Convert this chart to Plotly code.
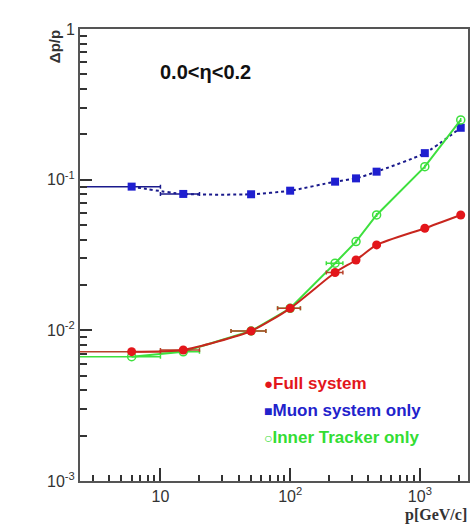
import plotly.graph_objects as go

# momentum values [GeV/c]
p_vals = [6, 15, 50, 100, 222, 322, 464, 1092, 2065]

full_system = [0.00722, 0.00741, 0.0099, 0.0140, 0.0242, 0.0293, 0.0369, 0.0476, 0.0583]
muon_only = [0.0899, 0.0804, 0.0800, 0.0845, 0.097, 0.102, 0.113, 0.150, 0.221]
tracker_only = [0.00669, 0.0072, 0.0099, 0.0140, 0.0279, 0.0388, 0.0583, 0.122, 0.249]

# horizontal bin half-widths (minus, plus)
err_minus = [4, 5, 15, 20, 32, 0, 0, 0, 0]
err_plus = [4, 5, 15, 20, 33, 0, 0, 0, 0]
muon_err = [4, 5, 0, 0, 0, 0, 0, 0, 0]

x_tickvals = [10, 100, 1000]
x_ticktext = ["10", "10<sup>2</sup>", "10<sup>3</sup>"]
y_tickvals = [0.001, 0.01, 0.1, 1]
y_ticktext = ["10<sup>-3</sup>", "10<sup>-2</sup>", "10<sup>-1</sup>", "1"]

RED = "#e3161b"
RED_LINE = "#c8261e"
BLUE = "#1f1fd0"
BLUE_LINE = "#1a1a8c"
GREEN = "#3ee03e"

fig = go.Figure()

fig.add_trace(go.Scatter(
    x=p_vals, y=muon_only, mode="lines+markers",
    line=dict(color=BLUE_LINE, width=2, dash="dot", shape="spline", smoothing=0.6),
    marker=dict(symbol="square", size=8, color=BLUE),
    error_x=dict(type="data", symmetric=False, array=muon_err, arrayminus=muon_err,
                 color=BLUE_LINE, thickness=1.5, width=2),
    showlegend=False))

fig.add_trace(go.Scatter(
    x=p_vals, y=tracker_only, mode="lines+markers",
    line=dict(color=GREEN, width=2),
    marker=dict(symbol="circle-open", size=8, color=GREEN, line=dict(width=1.5)),
    error_x=dict(type="data", symmetric=False, array=err_plus, arrayminus=err_minus,
                 color=GREEN, thickness=1.5, width=2),
    showlegend=False))

fig.add_trace(go.Scatter(
    x=p_vals, y=full_system, mode="lines+markers",
    line=dict(color=RED_LINE, width=2, shape="spline", smoothing=0.6),
    marker=dict(symbol="circle", size=9, color=RED),
    error_x=dict(type="data", symmetric=False, array=err_plus, arrayminus=err_minus,
                 color="#b8402a", thickness=1.5, width=2),
    showlegend=False))

axis_common = dict(
    type="log", showgrid=False, zeroline=False,
    showline=True, linecolor="#555555", linewidth=2, mirror=True,
    ticks="inside", tickcolor="#333333", tickwidth=1.5,
    tickfont=dict(family="Arial", size=16, color="#333333"),
)

fig.update_xaxes(
    **axis_common,
    range=[0.380, 3.371],
    tickvals=x_tickvals, ticktext=x_ticktext, ticklen=13,
    minor=dict(tickvals=[3, 4, 5, 6, 7, 8, 9, 20, 30, 40, 50, 60, 70, 80, 90,
                         200, 300, 400, 500, 600, 700, 800, 900, 2000],
               ticks="inside", ticklen=6, tickcolor="#333333", tickwidth=1.5),
)
fig.update_yaxes(
    **axis_common,
    range=[-3, 0],
    tickvals=y_tickvals, ticktext=y_ticktext, ticklen=12,
    minor=dict(tickvals=[k * 10 ** e for e in (-3, -2, -1) for k in range(2, 10)],
               ticks="inside", ticklen=7, tickcolor="#333333", tickwidth=1.5),
)

annotations = [
    dict(text="<b>0.0<η<0.2</b>", x=158, y=72, xanchor="left",
         font=dict(family="Arial", size=20, color="#111111")),
    dict(text="<b>Δp/p</b>", x=55, y=47, textangle=-90,
         font=dict(family="Arial", size=15, color="#333333")),
    dict(text="<b>p[GeV/c]</b>", x=471, y=515, xanchor="right",
         font=dict(family="Times New Roman, Liberation Serif, serif", size=16, color="#333333")),
    dict(text="<b><span style='font-size:15px'>●</span>Full system</b>", x=263, y=383, xanchor="left",
         font=dict(family="Arial", size=17, color="#e3161b")),
    dict(text="<b><span style='font-size:14px'>■</span>Muon system only</b>", x=263, y=410, xanchor="left",
         font=dict(family="Arial", size=17, color="#2222cc")),
    dict(text="<b><span style='font-size:14px'>○</span>Inner Tracker only</b>", x=263, y=437, xanchor="left",
         font=dict(family="Arial", size=17, color="#33dd33")),
]

# convert pixel positions to paper coords
L, R, T, B = 80, 2, 29, 51
W, H = 472, 532
pw, ph = W - L - R, H - T - B
for a in annotations:
    px, py = a["x"], a["y"]
    a["x"] = (px - L) / pw
    a["y"] = 1 - (py - T) / ph
    a["xref"] = "paper"
    a["yref"] = "paper"
    a["showarrow"] = False
    a.setdefault("xanchor", "center")
    a["yanchor"] = "middle"

fig.update_layout(
    width=W, height=H,
    margin=dict(l=L, r=R, t=T, b=B),
    paper_bgcolor="white", plot_bgcolor="white",
    annotations=annotations,
)

fig.write_html("out.html")
